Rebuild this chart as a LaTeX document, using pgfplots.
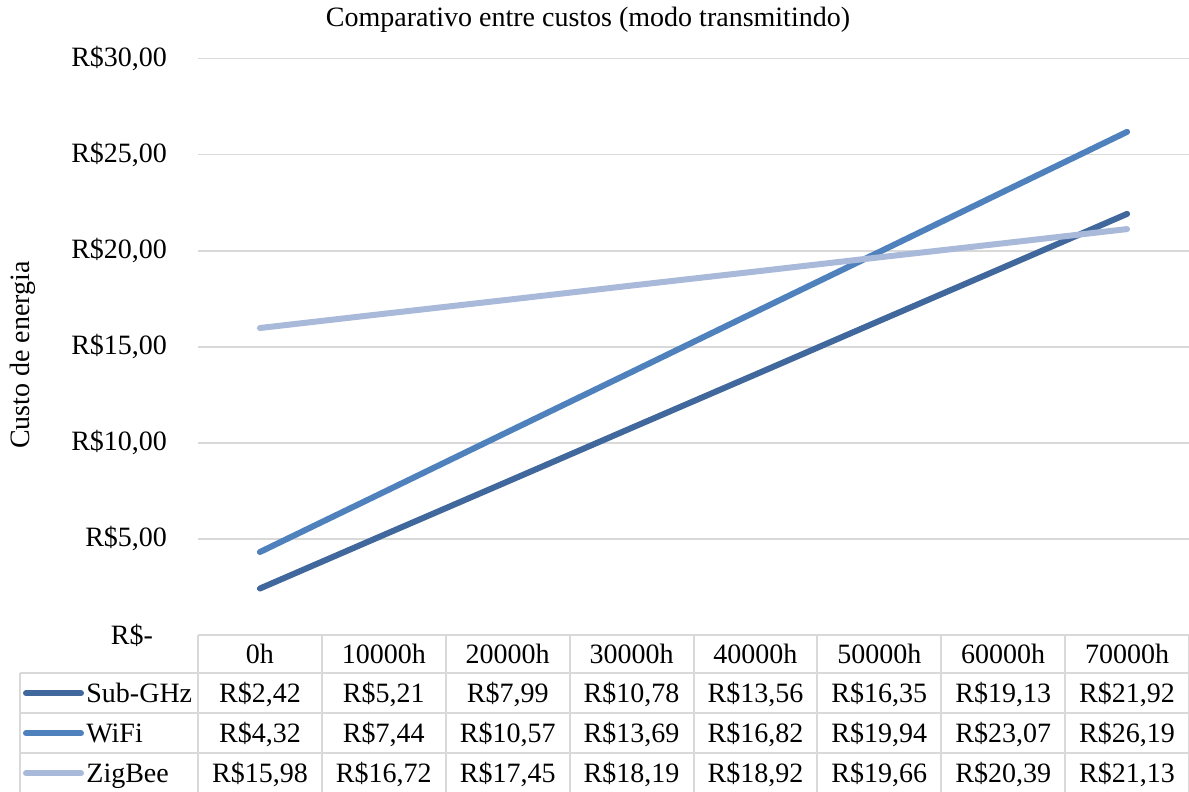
\documentclass[border=0pt]{standalone}
\usepackage{pgfplots}
\pgfplotsset{compat=1.18}
\usepackage{pgfplotstable}
\usepackage{fontspec}
\setmainfont{Liberation Serif}

\definecolor{subghz}{HTML}{41689C}
\definecolor{wifi}{HTML}{4F81BD}
\definecolor{zigbee}{HTML}{A9B9D9}
\definecolor{rulegray}{HTML}{D9D9D9}

% energy cost per device at each operating time
\pgfplotstableread{
x  sub    wifi   zig    lab
0  2.42   4.32   15.98  0h
1  5.21   7.44   16.72  10000h
2  7.99   10.57  17.45  20000h
3  10.78  13.69  18.19  30000h
4  13.56  16.82  18.92  40000h
5  16.35  19.94  19.66  50000h
6  19.13  23.07  20.39  60000h
7  21.92  26.19  21.13  70000h
}\costs

\pgfkeys{/pgf/number format/assume math mode=true}
\tikzset{cell text/.style={anchor=center, text height=9.5pt, text depth=0pt, inner sep=0pt, color=black}}

\begin{document}
\begin{tikzpicture}[font=\fontsize{14pt}{16pt}\selectfont]
\begin{axis}[
  name=main,
  at={(0,0)}, anchor=south west,
  scale only axis,
  width=495.5pt, height=288.15pt,
  xmin=-0.5, xmax=7.5, ymin=0, ymax=30,
  axis line style={draw=none},
  major tick length=0pt,
  xtick=\empty,
  ytick={0,5,...,30},
  yticklabels={{R\$-\kern7pt\null},{R\$5,00},{R\$10,00},{R\$15,00},{R\$20,00},{R\$25,00},{R\$30,00}},
  yticklabel style={anchor=east, xshift=-12pt},
  ymajorgrids,
  grid style={color=rulegray, line width=0.75pt},
  clip=false,
  every axis plot/.append style={line width=3pt, line cap=round, mark=none},
  money/.style={
    draw=none, forget plot, point meta=explicit,
    nodes near coords={R\$\pgfmathprintnumber[fixed,fixed zerofill,precision=2,use comma]{\pgfplotspointmeta}},
    nodes near coords align=center,
    every node near coord/.style={cell text}},
]
\addplot[subghz] table[x=x, y=sub] {\costs};
\addplot[wifi]   table[x=x, y=wifi] {\costs};
\addplot[zigbee] table[x=x, y=zig] {\costs};

% data table rows below the plot
\addplot[draw=none, forget plot, point meta=explicit symbolic,
  nodes near coords, nodes near coords align=center,
  every node near coord/.style={cell text}]
  table[x=x, y expr=-0.99, meta=lab] {\costs};
\addplot[money] table[x=x, y expr=-3.02, meta=sub] {\costs};
\addplot[money] table[x=x, y expr=-5.10, meta=wifi] {\costs};
\addplot[money] table[x=x, y expr=-7.18, meta=zig] {\costs};
\end{axis}

% table rules
\begin{scope}[rulegray, line width=1pt]
  \draw (0,0) -- (495.5pt,0);
  \foreach \r in {-19pt,-39pt,-59pt} \draw (-89pt,\r) -- (495.5pt,\r);
  \foreach \k in {0,...,8} \draw (\k*61.9375pt,0) -- (\k*61.9375pt,-78.5pt);
  \draw (-89pt,-19pt) -- (-89pt,-78.5pt);
\end{scope}

% series keys
\begin{scope}[line width=3pt, line cap=round]
  \draw[subghz] (-86pt,-29.2pt) -- (-58.5pt,-29.2pt);
  \draw[wifi]   (-86pt,-49.2pt) -- (-58.5pt,-49.2pt);
  \draw[zigbee] (-86pt,-69.2pt) -- (-58.5pt,-69.2pt);
\end{scope}
\node[cell text, anchor=west] at (-56pt,-29pt) {Sub-GHz};
\node[cell text, anchor=west] at (-56pt,-49pt) {WiFi};
\node[cell text, anchor=west] at (-56pt,-69pt) {ZigBee};

\node at (195pt,307.5pt) {Comparativo entre custos (modo transmitindo)};
\node[rotate=90] at (-87.5pt,140pt) {Custo de energia};

\pgfresetboundingbox
\useasboundingbox (-99pt,-78.5pt) rectangle (495.5pt,317.5pt);
\end{tikzpicture}
\end{document}
